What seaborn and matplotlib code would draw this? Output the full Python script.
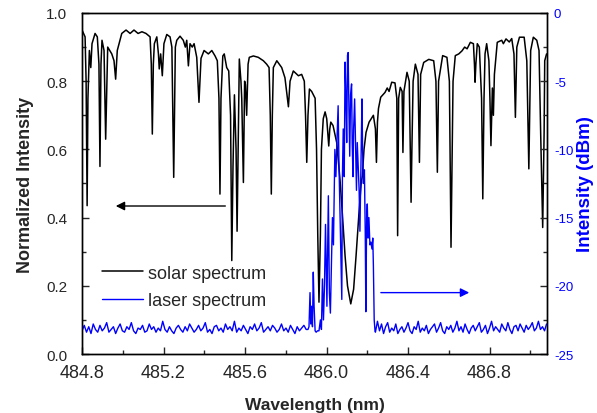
import numpy as np
import pandas as pd
import matplotlib
matplotlib.use('Agg')
import matplotlib.pyplot as plt
import seaborn as sns
from matplotlib.ticker import MultipleLocator

# ---- datos ----
# espectro solar (longitud de onda en nm, intensidad normalizada)
solar_wl = [484.800, 484.815, 484.820, 484.825, 484.829, 484.836, 484.843, 484.849, 484.864, 484.875,
            484.883, 484.888, 484.893, 484.898, 484.908, 484.916, 484.926, 484.946, 484.957, 484.965,
            484.973, 484.995, 485.016, 485.036, 485.055, 485.075, 485.094, 485.114, 485.134, 485.140,
            485.145, 485.150, 485.155, 485.167, 485.175, 485.179, 485.186, 485.194, 485.202, 485.216,
            485.232, 485.241, 485.250, 485.258, 485.265, 485.281, 485.297, 485.307, 485.314, 485.322,
            485.330, 485.341, 485.350, 485.363, 485.374, 485.384, 485.399, 485.420, 485.437, 485.453,
            485.464, 485.472, 485.477, 485.482, 485.491, 485.498, 485.510, 485.520, 485.529, 485.535,
            485.541, 485.548, 485.556, 485.561, 485.566, 485.572, 485.580, 485.584, 485.592, 485.598,
            485.602, 485.608, 485.615, 485.621, 485.641, 485.665, 485.690, 485.706, 485.718, 485.724,
            485.729, 485.734, 485.739, 485.756, 485.780, 485.796, 485.806, 485.813, 485.821, 485.837,
            485.862, 485.878, 485.891, 485.897, 485.903, 485.909, 485.916, 485.927, 485.944, 485.951,
            485.957, 485.963, 485.970, 485.975, 485.984, 485.993, 486.001, 486.007, 486.011, 486.016,
            486.021, 486.032, 486.050, 486.066, 486.079, 486.091, 486.103, 486.119, 486.133, 486.145,
            486.160, 486.170, 486.176, 486.184, 486.194, 486.209, 486.230, 486.240, 486.245, 486.250,
            486.255, 486.266, 486.287, 486.298, 486.307, 486.320, 486.336, 486.345, 486.349, 486.354,
            486.362, 486.371, 486.375, 486.380, 486.395, 486.406, 486.411, 486.415, 486.419, 486.425,
            486.436, 486.449, 486.456, 486.462, 486.477, 486.502, 486.526, 486.537, 486.544, 486.550,
            486.570, 486.591, 486.603, 486.608, 486.611, 486.615, 486.621, 486.632, 486.649, 486.665,
            486.678, 486.690, 486.706, 486.721, 486.726, 486.729, 486.733, 486.740, 486.750, 486.761,
            486.767, 486.773, 486.778, 486.786, 486.797, 486.802, 486.807, 486.814, 486.819, 486.824,
            486.838, 486.860, 486.868, 486.881, 486.897, 486.909, 486.920, 486.927, 486.934, 486.947,
            486.970, 486.983, 486.988, 486.993, 486.997, 487.002, 487.015, 487.032, 487.043, 487.051,
            487.061, 487.068, 487.071, 487.080]
solar_int = [0.950, 0.930, 0.800, 0.435, 0.750, 0.890, 0.840, 0.910, 0.940, 0.930,
             0.850, 0.550, 0.850, 0.920, 0.890, 0.630, 0.900, 0.880, 0.860, 0.806,
             0.890, 0.940, 0.950, 0.940, 0.950, 0.940, 0.945, 0.940, 0.930, 0.850,
             0.645, 0.850, 0.910, 0.930, 0.880, 0.836, 0.880, 0.816, 0.910, 0.937,
             0.930, 0.900, 0.518, 0.900, 0.920, 0.932, 0.920, 0.900, 0.920, 0.845,
             0.910, 0.900, 0.910, 0.870, 0.738, 0.867, 0.890, 0.880, 0.890, 0.874,
             0.860, 0.750, 0.469, 0.750, 0.874, 0.880, 0.840, 0.830, 0.700, 0.274,
             0.550, 0.760, 0.600, 0.360, 0.600, 0.865, 0.800, 0.748, 0.503, 0.800,
             0.790, 0.700, 0.850, 0.870, 0.874, 0.870, 0.860, 0.850, 0.840, 0.700,
             0.469, 0.700, 0.840, 0.860, 0.840, 0.810, 0.760, 0.725, 0.800, 0.830,
             0.816, 0.820, 0.800, 0.700, 0.562, 0.700, 0.777, 0.770, 0.750, 0.600,
             0.350, 0.152, 0.350, 0.600, 0.690, 0.710, 0.690, 0.640, 0.610, 0.660,
             0.680, 0.670, 0.620, 0.513, 0.400, 0.288, 0.200, 0.147, 0.190, 0.288,
             0.420, 0.500, 0.523, 0.600, 0.650, 0.680, 0.700, 0.660, 0.562, 0.680,
             0.720, 0.753, 0.767, 0.780, 0.770, 0.797, 0.795, 0.750, 0.347, 0.750,
             0.782, 0.770, 0.591, 0.770, 0.826, 0.800, 0.600, 0.445, 0.600, 0.800,
             0.850, 0.820, 0.562, 0.820, 0.855, 0.864, 0.860, 0.800, 0.533, 0.800,
             0.875, 0.870, 0.800, 0.500, 0.313, 0.500, 0.800, 0.875, 0.880, 0.889,
             0.900, 0.895, 0.914, 0.910, 0.850, 0.797, 0.850, 0.910, 0.900, 0.750,
             0.455, 0.750, 0.880, 0.910, 0.860, 0.750, 0.611, 0.780, 0.700, 0.820,
             0.914, 0.920, 0.910, 0.924, 0.915, 0.925, 0.880, 0.694, 0.900, 0.929,
             0.929, 0.860, 0.700, 0.543, 0.700, 0.890, 0.929, 0.920, 0.890, 0.650,
             0.371, 0.650, 0.860, 0.880]

# espectro láser: ruido de fondo a la izquierda (paso 0.01 nm desde 484.80)
laser_floor_left = [-23.3, -22.9, -23.4, -23.0, -23.5, -22.8, -23.2, -23.4, -22.9, -23.3,
                    -23.1, -22.7, -23.4, -23.2, -23.0, -23.5, -23.1, -22.8, -23.3, -23.4,
                    -23.0, -23.2, -22.7, -23.3, -23.5, -23.1, -23.2, -22.9, -23.4, -23.3,
                    -22.8, -23.2, -23.0, -23.4, -23.1, -23.3, -22.6, -23.2, -23.4, -23.0,
                    -23.3, -23.5, -23.1, -22.9, -23.2, -23.4, -23.0, -23.3, -22.8, -23.1,
                    -23.4, -23.2, -22.9, -23.3, -23.1, -22.7, -23.4, -23.2, -23.5, -23.0,
                    -22.9, -23.3, -23.1, -23.4, -22.8, -23.2, -23.0, -23.3, -22.6, -23.4,
                    -23.1, -23.3, -22.9, -23.2, -23.5, -23.0, -23.2, -22.8, -23.3, -23.1,
                    -22.7, -23.4, -23.2, -23.0, -23.3, -22.9, -23.1, -23.4, -23.2, -22.8,
                    -23.3, -23.1, -23.4, -22.9, -23.2, -23.5, -23.0, -23.3, -23.1, -22.9,
                    -23.2]
# zona de emisión del láser (nm, dBm)
laser_peak_wl = [485.909, 485.914, 485.919, 485.923, 485.926, 485.931, 485.935, 485.939, 485.944, 485.949,
                 485.956, 485.963, 485.970, 485.975, 485.980, 485.985, 485.990, 485.995, 486.002, 486.009,
                 486.014, 486.019, 486.024, 486.029, 486.034, 486.041, 486.046, 486.052, 486.057, 486.061,
                 486.066, 486.071, 486.075, 486.078, 486.082, 486.087, 486.091, 486.095, 486.099, 486.103,
                 486.106, 486.110, 486.114, 486.118, 486.123, 486.126, 486.130, 486.133, 486.138, 486.143,
                 486.147, 486.151, 486.156, 486.160, 486.164, 486.168, 486.174, 486.177, 486.181, 486.186,
                 486.190, 486.193, 486.197, 486.200, 486.204, 486.208, 486.213, 486.218, 486.223, 486.227,
                 486.230, 486.234, 486.238]
laser_peak_db = [-23.2, -23.0, -20.5, -22.8, -21.5, -23.0, -19.0, -21.5, -23.3, -23.4,
                 -23.3, -23.3, -22.5, -23.2, -19.5, -22.5, -20.0, -15.5, -21.5, -13.4,
                 -20.5, -22.0, -18.5, -15.0, -17.0, -10.0, -12.0, -9.0, -6.8, -11.0,
                 -14.5, -18.0, -21.0, -12.0, -8.5, -12.0, -3.6, -6.0, -9.5, -3.1,
                 -2.9, -7.0, -10.5, -6.0, -5.2, -9.5, -12.0, -8.5, -6.3, -10.0,
                 -13.0, -9.5, -11.5, -13.0, -16.0, -12.0, -6.3, -10.0, -12.5, -11.5,
                 -16.0, -21.9, -15.0, -14.0, -16.5, -15.0, -17.0, -16.8, -17.3, -16.5,
                 -18.5, -22.5, -23.3]
# ruido de fondo a la derecha (paso 0.01 nm desde 486.24)
laser_floor_right = [-23.4, -22.6, -23.3, -22.8, -23.5, -23.0, -22.7, -23.4, -23.1, -23.3,
                     -22.8, -23.5, -23.2, -23.0, -23.4, -23.1, -22.7, -23.3, -23.5, -23.0,
                     -23.2, -22.6, -23.4, -23.1, -23.3, -22.9, -23.5, -23.2, -23.0, -22.8,
                     -23.4, -23.1, -22.7, -23.3, -23.5, -23.0, -23.2, -22.9, -23.4, -23.1,
                     -22.6, -23.3, -23.0, -23.4, -22.8, -23.2, -23.5, -23.1, -22.9, -23.3,
                     -23.0, -22.7, -23.4, -23.2, -22.9, -23.5, -23.1, -22.6, -23.3, -23.0,
                     -23.2, -23.4, -22.8, -23.1, -23.3, -22.7, -23.2, -23.5, -23.0, -22.9,
                     -23.3, -22.8, -23.1, -23.4, -22.9, -23.2, -23.0, -22.7, -23.3, -23.1,
                     -22.6, -23.2, -23.0, -23.3, -22.8]

# rejilla de muestreo del ruido
wl_left = np.round(np.linspace(484.80, 485.90, len(laser_floor_left)), 3)
wl_right = np.round(np.linspace(486.24, 487.08, len(laser_floor_right)), 3)

solar_df = pd.DataFrame({'wl': solar_wl, 'val': solar_int})
laser_df = pd.DataFrame({
    'wl': np.concatenate([wl_left, laser_peak_wl, wl_right]),
    'val': np.concatenate([laser_floor_left, laser_peak_db, laser_floor_right]),
})

# ---- estilo ----
sns.set_style('ticks')
plt.rcParams['font.family'] = ['Liberation Sans', 'DejaVu Sans']
plt.rcParams['axes.unicode_minus'] = False  # guion simple como en el original

fig, ax = plt.subplots(figsize=(5.97, 4.14), dpi=100)
fig.subplots_adjust(left=0.1374, right=0.9162, top=0.9662, bottom=0.1425)
ax2 = ax.twinx()

sns.lineplot(data=solar_df, x='wl', y='val', ax=ax, color='black', lw=1.1,
             sort=False, estimator=None, label='solar spectrum')
sns.lineplot(data=laser_df, x='wl', y='val', ax=ax2, color='#0000ff', lw=1.0,
             sort=False, estimator=None, label='laser spectrum')
for a in (ax, ax2):
    if a.get_legend() is not None:
        a.get_legend().remove()

ax.set_xlim(484.8, 487.082)
ax.set_ylim(0, 1.0)
ax2.set_ylim(-25, 0)

ax.xaxis.set_major_locator(MultipleLocator(0.4))
ax.xaxis.set_minor_locator(MultipleLocator(0.2))
ax.yaxis.set_major_locator(MultipleLocator(0.2))
ax.yaxis.set_minor_locator(MultipleLocator(0.1))
ax2.yaxis.set_major_locator(MultipleLocator(5))
ax2.yaxis.set_minor_locator(MultipleLocator(2.5))

ax.tick_params(axis='x', which='both', direction='in', labelsize=13, pad=7, top=False)
ax.tick_params(axis='y', which='both', direction='in', labelsize=11, pad=10.5)
ax.tick_params(which='major', length=5, width=1)
ax.tick_params(which='minor', length=3, width=1)
ax2.tick_params(axis='y', which='both', direction='in', labelsize=9.5, pad=5, labelcolor='#0000ff')
ax2.tick_params(which='major', length=5, width=1)
ax2.tick_params(which='minor', length=3, width=1)

for a in (ax, ax2):
    for s in a.spines.values():
        s.set_visible(True)
        s.set_color('black')
        s.set_linewidth(1.0)

ax.set_xlabel('Wavelength (nm)', fontsize=12.5, fontweight='bold', labelpad=12)
ax.set_ylabel('Normalized Intensity', fontsize=13, fontweight='bold', labelpad=9)
ax2.set_ylabel('Intensity (dBm)', fontsize=13.5, fontweight='bold', color='#0000ff', labelpad=3)

# flechas indicando el eje de cada curva
ax.annotate('', xy=(484.952, 0.434), xytext=(485.517, 0.434),
            arrowprops=dict(arrowstyle='-|>', color='black', lw=1.0, mutation_scale=13))
ax2.annotate('', xy=(486.714, -20.5), xytext=(486.253, -20.5),
             arrowprops=dict(arrowstyle='-|>', color='#0000ff', lw=1.0, mutation_scale=13))

handles = [ax.get_lines()[0], ax2.get_lines()[0]]
ax2.legend(handles, ['solar spectrum', 'laser spectrum'], loc='upper left',
           bbox_to_anchor=(0.042, 0.262), frameon=False, fontsize=13,
           handlelength=2.3, handletextpad=0.3, labelspacing=0.6,
           borderaxespad=0, borderpad=0)

plt.savefig('out.png', dpi=100)
